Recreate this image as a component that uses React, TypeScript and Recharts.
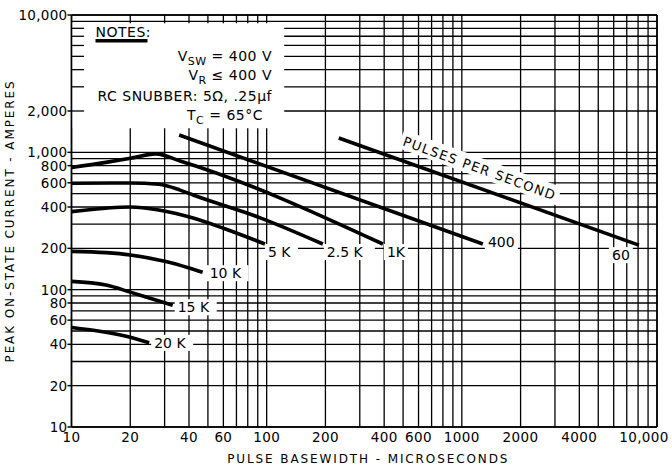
import React from 'react';
import { LineChart, Line, XAxis, YAxis, CartesianGrid, ReferenceArea, ReferenceLine, ReferenceDot } from 'recharts';

// ---------- grid / tick values ----------
const xGrid = [10, 20, 30, 40, 50, 60, 70, 80, 90, 100, 200, 300, 400, 500, 600, 700, 800, 900, 1000, 2000, 3000, 4000, 5000, 6000, 7000, 8000, 9000, 10000];
const yGrid = [10, 20, 30, 40, 50, 60, 70, 80, 90, 100, 200, 300, 400, 500, 600, 700, 800, 900, 1000, 2000, 3000, 4000, 5000, 6000, 7000, 8000, 9000, 10000];
const xLabels = [10, 20, 40, 60, 100, 200, 400, 600, 1000, 2000, 4000, 10000];
const yLabels = [10, 20, 40, 60, 80, 100, 200, 400, 600, 800, 1000, 2000, 10000];
const boxStubs = [2000, 3000, 4000, 5000, 6000, 7000, 8000];

// ---------- series (pulse basewidth us, peak current A) ----------
const s20k = [{ x: 10, y: 53 }, { x: 20, y: 45 }, { x: 25, y: 41 }];
const s15k = [{ x: 10, y: 115 }, { x: 15, y: 108 }, { x: 20, y: 96 }, { x: 25, y: 87 }, { x: 33, y: 77 }];
const s10k = [{ x: 10, y: 190 }, { x: 15, y: 186 }, { x: 20, y: 179 }, { x: 30, y: 161 }, { x: 40, y: 144 }, { x: 47, y: 134 }];
const s5k = [{ x: 10, y: 370 }, { x: 15, y: 392 }, { x: 20, y: 400 }, { x: 28, y: 380 }, { x: 42, y: 332 }, { x: 60, y: 280 }, { x: 98, y: 215 }];
const s2_5k = [{ x: 10, y: 595 }, { x: 20, y: 598 }, { x: 28, y: 585 }, { x: 36, y: 531 }, { x: 42, y: 489 }, { x: 92, y: 335 }, { x: 194, y: 215 }];
const s1k = [{ x: 10, y: 775 }, { x: 15, y: 845 }, { x: 20, y: 905 }, { x: 27, y: 975 }, { x: 36, y: 865 }, { x: 394, y: 215 }];
const s400 = [{ x: 35.6, y: 1336 }, { x: 1282, y: 215 }];
const s60 = [{ x: 234, y: 1271 }, { x: 8074, y: 211 }];

const seriesList = [
  { name: '20 K', data: s20k, dx: 5, dy: 0, anchor: 'start' },
  { name: '15 K', data: s15k, dx: 5, dy: 2, anchor: 'start' },
  { name: '10 K', data: s10k, dx: 7, dy: 1, anchor: 'start' },
  { name: '5 K', data: s5k, dx: 3, dy: 8, anchor: 'start' },
  { name: '2.5 K', data: s2_5k, dx: 4, dy: 8, anchor: 'start' },
  { name: '1K', data: s1k, dx: 4, dy: 8, anchor: 'start' },
  { name: '400', data: s400, dx: 5, dy: -2, anchor: 'start' },
  { name: '60', data: s60, dx: -9, dy: 10, anchor: 'end' },
];

const FONT = '"DejaVu Sans", sans-serif';

const fmtY = (v: number) => (v >= 1000 ? v.toLocaleString('en-US') : String(v));
const fmtX = (v: number) => (v >= 10000 ? '10,000' : String(v));

const XTick = (props: any) => {
  const { x, y, payload } = props;
  const v = payload.value;
  if (!xLabels.includes(v)) return <g />;
  const dx = v === 10000 ? -13 : 0;
  return (
    <text x={x + dx} y={y + 15} textAnchor="middle" fontFamily={FONT} fontSize={13.5} letterSpacing={0.4} fill="#000">
      {fmtX(v)}
    </text>
  );
};

const YTick = (props: any) => {
  const { x, y, payload } = props;
  const v = payload.value;
  if (!yLabels.includes(v)) return <g />;
  return (
    <g>
      <line x1={x - 4} x2={x} y1={y} y2={y} stroke="#000" strokeWidth={1.5} />
      <text x={x - 4} y={y + 5} textAnchor="end" fontFamily={FONT} fontSize={13.5} letterSpacing={0.3} fill="#000">
        {fmtY(v)}
      </text>
    </g>
  );
};

const CurveLabel = ({ cx, cy, text, dx, dy, anchor }: any) => {
  const w = text.length * 9 + 6;
  const tx = cx + dx;
  const x0 = anchor === 'start' ? tx - 3 : tx - w + 3;
  return (
    <g>
      <rect x={x0} y={cy + dy - 8} width={w} height={16} fill="#fff" />
      <text x={tx} y={cy + dy + 5} textAnchor={anchor} fontFamily={FONT} fontSize={14} fill="#000">
        {text}
      </text>
    </g>
  );
};

const PpsLabel = ({ cx, cy }: any) => {
  const x = cx + 141;
  const y = cy + 30;
  return (
    <g transform={`translate(${x},${y}) rotate(20)`}>
      <rect x={-84} y={-10} width={168} height={19} fill="#fff" />
      <text x={0} y={5} textAnchor="middle" fontFamily={FONT} fontSize={13} letterSpacing={1.4} fill="#000">
        PULSES PER SECOND
      </text>
    </g>
  );
};

const Notes = ({ cx, cy }: any) => {
  const t = { fontFamily: FONT, fontSize: 14, letterSpacing: 0.5, fill: '#000' } as any;
  return (
    <g>
      <text x={cx + 24} y={cy + 22} {...t}>NOTES:</text>
      <rect x={cx + 24} y={cy + 24} width={52} height={3.5} fill="#000" />
      <text x={cx + 200.5} y={cy + 46} textAnchor="end" {...t}>
        V<tspan fontSize={11} dy={4}>SW</tspan><tspan dy={-4}> = 400 V</tspan>
      </text>
      <text x={cx + 200.5} y={cy + 65} textAnchor="end" {...t}>
        V<tspan fontSize={11} dy={4}>R</tspan><tspan dy={-4}> ≤ 400 V</tspan>
      </text>
      <text x={cx + 200.5} y={cy + 86} textAnchor="end" {...t}>RC SNUBBER:  5Ω, .25μf</text>
      <text x={cx + 191.5} y={cy + 105} textAnchor="end" {...t}>
        T<tspan fontSize={11} dy={4}>C</tspan><tspan dy={-4}> = 65°C</tspan>
      </text>
    </g>
  );
};

export default function App() {
  return (
    <div style={{ position: 'absolute', left: 0, top: 0, width: 672, height: 468, background: '#fff' }}>
      <LineChart width={672} height={468} margin={{ top: 15, right: 15, bottom: 0, left: 0 }}>
        <CartesianGrid stroke="#000" strokeWidth={1.3} />
        <XAxis
          dataKey="x"
          type="number"
          scale="log"
          domain={[10, 10000]}
          ticks={xGrid}
          interval={0}
          allowDataOverflow
          height={41}
          tickSize={0}
          tickMargin={0}
          tickLine={false}
          axisLine={{ stroke: '#000', strokeWidth: 1.6 }}
          tick={(p: any) => <XTick {...p} />}
          label={{ value: 'PULSE BASEWIDTH - MICROSECONDS', position: 'insideBottom', offset: 5, fill: '#000', fontFamily: FONT, fontSize: 12, letterSpacing: 1.9, dx: 4 } as any}
        />
        <YAxis
          dataKey="y"
          type="number"
          scale="log"
          domain={[10, 10000]}
          ticks={yGrid}
          interval={0}
          allowDataOverflow
          width={71.5}
          tickSize={0}
          tickMargin={0}
          tickLine={false}
          axisLine={{ stroke: '#000', strokeWidth: 1.6 }}
          tick={(p: any) => <YTick {...p} />}
          label={{ value: 'PEAK ON-STATE CURRENT - AMPERES', angle: -90, position: 'insideLeft', offset: 10, dy: 0, fill: '#000', fontFamily: FONT, fontSize: 12, letterSpacing: 1.9, style: { textAnchor: 'middle' } } as any}
        />
        <ReferenceLine x={10000} stroke="#000" strokeWidth={1.6} />
        <ReferenceLine y={10000} stroke="#000" strokeWidth={1.6} />
        <ReferenceArea x1={10} x2={123} y1={1500} y2={8700} fill="#fff" fillOpacity={1} stroke="none" ifOverflow="visible" />
        {boxStubs.map((v) => (
          <ReferenceLine key={v} segment={[{ x: 10, y: v }, { x: 11.6, y: v }]} stroke="#000" strokeWidth={1.3} />
        ))}
        {seriesList.map((s) => (
          <Line
            key={s.name}
            data={s.data}
            dataKey="y"
            type="monotone"
            stroke="#000"
            strokeWidth={3.6}
            dot={false}
            activeDot={false}
            isAnimationActive={false}
          />
        ))}
        {seriesList.map((s) => {
          const last = s.data[s.data.length - 1];
          return (
            <ReferenceDot
              key={'l' + s.name}
              x={last.x}
              y={last.y}
              r={0}
              ifOverflow="visible"
              shape={(p: any) => <CurveLabel cx={p.cx} cy={p.cy} text={s.name} dx={s.dx} dy={s.dy} anchor={s.anchor} />}
            />
          );
        })}
        <ReferenceDot x={s60[0].x} y={s60[0].y} r={0} ifOverflow="visible" shape={(p: any) => <PpsLabel cx={p.cx} cy={p.cy} />} />
        <ReferenceDot x={10} y={10000} r={0} ifOverflow="visible" shape={(p: any) => <Notes cx={p.cx} cy={p.cy} />} />
      </LineChart>
    </div>
  );
}
